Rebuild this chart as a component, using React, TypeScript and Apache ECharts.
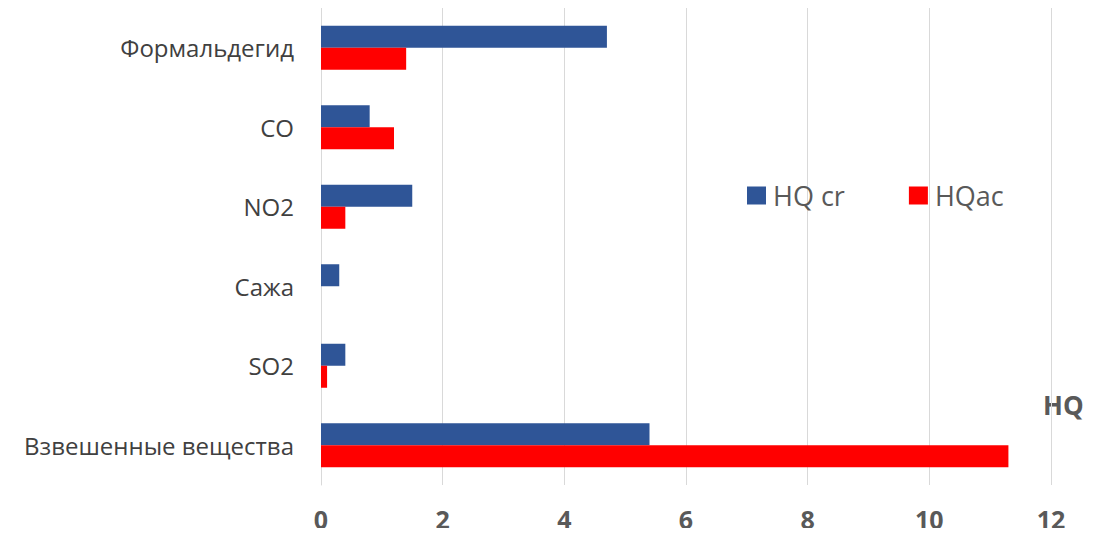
import React, { useEffect, useRef } from "react";
import * as echarts from "echarts";

const categories = ["Взвешенные вещества", "SO2", "Сажа", "NO2", "CO", "Формальдегид"];
const hqCr = [5.4, 0.4, 0.3, 1.5, 0.8, 4.7];
const hqAc = [11.3, 0.1, 0, 0.4, 1.2, 1.4];
const xTicks = { min: 0, max: 12, interval: 2 };

export default function App() {
  const ref = useRef<HTMLDivElement>(null);
  useEffect(() => {
    const chart = echarts.init(ref.current!, null, { renderer: "svg" });
    const font = "'Open Sans', 'Noto Sans', sans-serif";
    chart.setOption({
      animation: false,
      textStyle: { fontFamily: font },
      grid: { left: 321, right: 51, top: 8, bottom: 51, containLabel: false },
      legend: {
        left: 747,
        top: 182,
        padding: 0,
        itemWidth: 19,
        itemHeight: 18,
        itemGap: 64,
        icon: "rect",
        textStyle: { fontSize: 27, color: "#595959", fontFamily: font, padding: [0, 0, 0, 2] },
        data: ["HQ cr", "HQac"],
      },
      graphic: [
        {
          type: "text",
          left: 1043,
          top: 392,
          style: { text: "HQ", fontSize: 26, fontWeight: "bold", fill: "#595959", fontFamily: font },
        },
      ],
      xAxis: {
        type: "value",
        min: xTicks.min,
        max: xTicks.max,
        interval: xTicks.interval,
        axisLine: { show: false },
        axisTick: { show: false },
        axisLabel: { fontSize: 25, fontWeight: "bold", color: "#595959", margin: 21, fontFamily: font },
        splitLine: { show: true, lineStyle: { color: "#d9d9d9", width: 1 } },
      },
      yAxis: {
        type: "category",
        data: categories,
        axisLine: { show: true, lineStyle: { color: "#d9d9d9", width: 1 } },
        axisTick: { show: false },
        axisLabel: { fontSize: 24, color: "#404040", margin: 27, fontFamily: font },
      },
      series: [
        {
          name: "HQ cr",
          type: "bar",
          data: hqCr,
          barWidth: 22,
          barGap: "0%",
          itemStyle: { color: "#2f5597" },
        },
        {
          name: "HQac",
          type: "bar",
          data: hqAc,
          barWidth: 22,
          barGap: "0%",
          itemStyle: { color: "#ff0000" },
        },
      ],
    });
    return () => chart.dispose();
  }, []);
  return <div ref={ref} style={{ width: 1102, height: 536, margin: -8 }} />;
}
